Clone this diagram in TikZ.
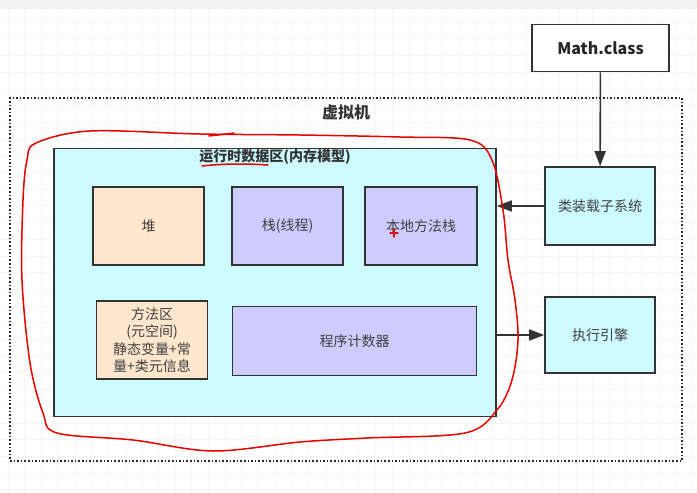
\documentclass[tikz,border=0pt]{standalone}
\usepackage{fontspec}
\setmainfont{Noto Sans CJK SC}
\usetikzlibrary{arrows.meta,positioning}
\definecolor{cyanbox}{HTML}{CCFAFF}
\definecolor{peachbox}{HTML}{FFE6CC}
\definecolor{lilacbox}{HTML}{CCCCFF}
\definecolor{edgegray}{HTML}{333333}

\begin{document}
\begin{tikzpicture}[x=1pt, y=-1pt, >={Triangle[length=15pt,width=11pt]}, font=\fontsize{14}{17.5}\selectfont]
    \tikzstyle{box} = [rectangle, draw=edgegray, line width=1.6pt, text centered, inner sep=0pt, text=black!75]
    \tikzstyle{heapbox} = [box, fill=peachbox, minimum width=111pt, minimum height=78pt]
    \tikzstyle{stackbox} = [box, fill=lilacbox, minimum width=111pt, minimum height=78pt]
    \tikzstyle{sidebox} = [box, fill=cyanbox, minimum width=110pt, minimum height=78pt]
    \tikzstyle{link} = [draw=edgegray, line width=1.6pt]
    \tikzstyle{pen} = [red!90!black, line width=1.5pt, line cap=round, line join=round]

    % Background
    \useasboundingbox (0,0) rectangle (697,493);
    \fill[white] (0,0) rectangle (697,493);
    \fill[gray!10] (0,0) rectangle (697,9);
    \foreach \gx in {8,24.7,...,697} \draw[gray!8, line width=0.6pt] (\gx,9) -- (\gx,493);
    \foreach \gy in {22,38.7,...,493} \draw[gray!8, line width=0.6pt] (0,\gy) -- (697,\gy);

    % Virtual machine
    \node [rectangle, draw=black!85, line width=1.6pt, dotted, minimum width=672pt, minimum height=363pt] (vm) at (346,279.5) {};
    \node [font=\fontsize{16}{18}\selectfont\bfseries, text=black!80] (vmtitle) at (346,112) {虚拟机};

    % Class file and subsystems
    \node [box, fill=white, minimum width=137pt, minimum height=47pt, font=\fontsize{16}{18}\selectfont\bfseries, text=black!85] (math) at (600.5,48) {Math.class};
    \node [sidebox] (loader) at (600,206) {类装载子系统};
    \node [sidebox, minimum height=76pt] (engine) at (600,335) {执行引擎};

    % Runtime data area
    \node [box, fill=cyanbox, minimum width=442pt, minimum height=268pt] (runtime) at (275,282.5) {};
    \node [anchor=north, inner sep=0pt, font=\fontsize{14}{17}\selectfont\bfseries, text=black!80] (rttitle) at ([yshift=-2pt]runtime.north) {运行时数据区(内存模型)};
    \node [heapbox] (heap) at (148.5,226) {堆};
    \node [stackbox] (stack) at (287.5,226) {栈(线程)};
    \node [stackbox, minimum width=112pt] (native) at (421,226) {本地方法栈};
    \node [heapbox, align=center] (method) at (152,340) {方法区\\(元空间)\\静态变量+常\\量+类元信息};
    \node [stackbox, minimum width=244pt, minimum height=69pt] (pc) at (354.5,341) {程序计数器};

    % Connections
    \draw [link, ->] (math) -- (loader);
    \draw [link, ->] (loader.west) -- (loader.west -| runtime.east);
    \draw [link, ->] (runtime.east |- engine) -- (engine.west);

    % Hand-drawn marks
    \draw [pen] plot[smooth cycle, tension=0.55] coordinates {
        (36,143) (90,131) (200,134) (300,135) (400,137) (470,140) (492,160)
        (503,210) (508,260) (515,300) (518,340) (512,380) (497,410) (465,433)
        (367,438) (300,442) (213,451) (133,440) (57,433) (43,413) (30,363)
        (22,280) (23,200) (27,160)};
    \draw [pen] (209,136) -- (234,133);
    \draw [pen] (202,166) .. controls (230,163) and (250,164) .. (268,165);
    \draw [pen, line width=1.2pt] (390,233) -- (398,233) (394,229) -- (394,237);
\end{tikzpicture}
\end{document}
